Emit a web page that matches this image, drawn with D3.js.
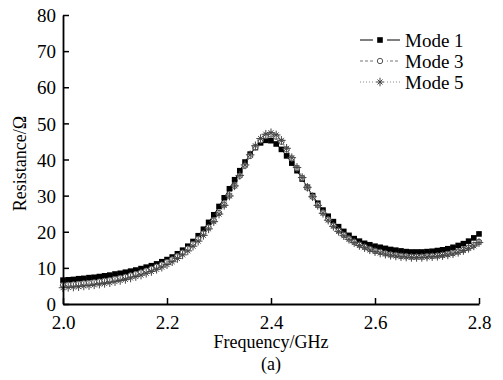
<!DOCTYPE html>
<html>
<head>
<meta charset="utf-8">
<script src="https://cdn.jsdelivr.net/npm/d3@7"></script>
<style>
  body { margin: 0; background: #fff; }
  svg text { font-family: "Liberation Serif", "Times New Roman", serif; }
</style>
</head>
<body>
<script>
// frequency grid, GHz
const freqs = d3.range(0, 81).map(i => +(2 + i * 0.01).toFixed(2));

const mode1 = [
  6.6, 6.7, 6.8, 7.0, 7.1, 7.3, 7.4, 7.6, 7.8, 8.0,
  8.3, 8.5, 8.8, 9.1, 9.4, 9.8, 10.2, 10.6, 11.1, 11.7,
  12.3, 13.0, 13.9, 14.9, 16.0, 17.3, 18.9, 20.7, 22.6, 24.7,
  27.0, 29.4, 31.9, 34.4, 36.9, 39.3, 41.5, 43.3, 44.6, 45.3,
  45.2, 44.3, 42.8, 41.0, 39.0, 36.9, 34.6, 32.3, 30.0, 27.9,
  26.0, 24.3, 22.8, 21.4, 20.1, 19.0, 18.1, 17.4, 16.8, 16.4,
  16.0, 15.7, 15.4, 15.1, 14.9, 14.7, 14.5, 14.4, 14.4, 14.4,
  14.5, 14.6, 14.8, 15.0, 15.3, 15.7, 16.2, 16.7, 17.4, 18.3,
  19.4
];
const mode3 = [
  5.2, 5.3, 5.4, 5.5, 5.7, 5.8, 6.0, 6.2, 6.4, 6.6,
  6.9, 7.2, 7.5, 7.9, 8.3, 8.7, 9.2, 9.7, 10.3, 10.9,
  11.6, 12.3, 13.2, 14.2, 15.3, 16.6, 18.0, 19.5, 21.2, 23.1,
  25.2, 27.5, 30.0, 32.7, 35.5, 38.3, 41.0, 43.4, 45.3, 46.5,
  46.9, 46.3, 44.9, 42.8, 40.3, 37.6, 34.9, 32.2, 29.7, 27.4,
  25.3, 23.4, 21.7, 20.3, 19.1, 18.1, 17.2, 16.4, 15.8, 15.2,
  14.7, 14.4, 14.0, 13.7, 13.5, 13.3, 13.2, 13.1, 13.1, 13.1,
  13.2, 13.3, 13.4, 13.6, 13.8, 14.1, 14.5, 15.0, 15.6, 16.3,
  17.2
];
const mode5 = [
  4.5, 4.6, 4.7, 4.8, 5.0, 5.1, 5.3, 5.5, 5.7, 5.9,
  6.2, 6.5, 6.8, 7.2, 7.6, 8.0, 8.5, 9.0, 9.6, 10.2,
  10.9, 11.7, 12.6, 13.6, 14.7, 16.0, 17.4, 19.0, 20.8, 22.8,
  24.9, 27.3, 29.9, 32.7, 35.6, 38.5, 41.3, 43.8, 45.8, 47.0,
  47.4, 46.8, 45.3, 43.1, 40.5, 37.8, 35.0, 32.3, 29.7, 27.3,
  25.1, 23.2, 21.5, 20.1, 18.9, 17.9, 17.0, 16.2, 15.6, 15.0,
  14.5, 14.1, 13.8, 13.5, 13.3, 13.1, 13.0, 12.9, 12.9, 12.9,
  13.0, 13.1, 13.2, 13.4, 13.6, 13.9, 14.3, 14.8, 15.4, 16.1,
  17.0
];

const seriesNames = ["Mode 1", "Mode 3", "Mode 5"];
const xTicks = [2.0, 2.2, 2.4, 2.6, 2.8];
const yTicks = [0, 10, 20, 30, 40, 50, 60, 70, 80];

const width = 503, height = 380;
const margin = {left: 63, right: 24, top: 15, bottom: 76};
const serif = "'Liberation Serif', 'Times New Roman', serif";

const svg = d3.select("body").append("svg")
  .attr("width", width).attr("height", height);

const xScale = d3.scaleLinear().domain([2.0, 2.8]).range([margin.left, width - margin.right]);
const yScale = d3.scaleLinear().domain([0, 80]).range([height - margin.bottom, margin.top]);

// series styles
const styles = [
  {data: mode1, stroke: "#000", dash: null, marker: "square"},
  {data: mode3, stroke: "#777", dash: "3,2", marker: "circle"},
  {data: mode5, stroke: "#888", dash: "1,2", marker: "star"}
];

const starPath = d3.symbol().type(d3.symbolPlus).size(26)() + d3.symbol().type(d3.symbolTimes).size(18)();

function drawMarker(g, type, x, y) {
  if (type === "square") {
    g.append("rect").attr("x", x - 2.8).attr("y", y - 2.8).attr("width", 5.6).attr("height", 5.6)
      .attr("fill", "#000");
  } else if (type === "circle") {
    g.append("circle").attr("cx", x).attr("cy", y).attr("r", 2.7)
      .attr("fill", "#fff").attr("stroke", "#555").attr("stroke-width", 1);
  } else {
    g.append("path").attr("d", starPath).attr("transform", `translate(${x},${y})`)
      .attr("fill", "none").attr("stroke", "#444").attr("stroke-width", 1);
  }
}

const line = d3.line().x((d, i) => xScale(freqs[i])).y(d => yScale(d));

const plot = svg.append("g");
styles.forEach(s => {
  plot.append("path").attr("d", line(s.data))
    .attr("fill", "none").attr("stroke", s.stroke).attr("stroke-width", 1)
    .attr("stroke-dasharray", s.dash);
});
// markers drawn in order so later modes sit on top
styles.forEach(s => {
  const g = plot.append("g");
  s.data.forEach((v, i) => drawMarker(g, s.marker, xScale(freqs[i]), yScale(v)));
});

// axes
const xAxis = d3.axisBottom(xScale).tickValues(xTicks).tickFormat(d3.format(".1f")).tickSizeInner(-6).tickSizeOuter(0);
const yAxis = d3.axisLeft(yScale).tickValues(yTicks).tickSizeInner(-6).tickSizeOuter(0);

const gx = svg.append("g").attr("transform", `translate(0, ${yScale(0)})`).call(xAxis);
const gy = svg.append("g").attr("transform", `translate(${margin.left}, 0)`).call(yAxis);

[gx, gy].forEach(g => {
  g.attr("font-family", serif);
  g.select(".domain").attr("stroke", "#000").attr("stroke-width", 1.8);
  g.selectAll(".tick line").attr("stroke", "#000").attr("stroke-width", 1.5);
  g.selectAll(".tick text").attr("fill", "#000").style("font-size", "19px").style("font-family", serif);
});
gx.selectAll(".tick text").attr("dy", null).attr("y", 25);
gy.selectAll(".tick text").attr("x", -7).attr("dy", "0.35em");

// axis titles
svg.append("text").attr("x", xScale(2.4)).attr("y", 348).attr("text-anchor", "middle")
  .style("font-size", "18px").style("font-family", serif).text("Frequency/GHz");
svg.append("text").attr("x", xScale(2.4)).attr("y", 370).attr("text-anchor", "middle")
  .style("font-size", "18px").style("font-family", serif).text("(a)");
svg.append("text").attr("transform", `translate(26, ${yScale(40) + 4}) rotate(-90)`)
  .attr("text-anchor", "middle").style("font-size", "18px").style("font-family", serif)
  .text("Resistance/\u03A9");

// legend
const legend = svg.append("g").attr("transform", "translate(360, 40)");
styles.forEach((s, i) => {
  const row = legend.append("g").attr("transform", `translate(0, ${i * 21})`);
  row.append("line").attr("x1", 0).attr("x2", 40).attr("y1", 0).attr("y2", 0)
    .attr("stroke", s.stroke).attr("stroke-width", 1).attr("stroke-dasharray", s.dash);
  row.append("rect").attr("x", 13).attr("y", -4).attr("width", 14).attr("height", 8).attr("fill", "#fff");
  drawMarker(row, s.marker, 20, 0);
  row.append("text").attr("x", 45).attr("y", 0).attr("dy", "0.35em")
    .style("font-size", "19px").style("font-family", serif).text(seriesNames[i]);
});
</script>
</body>
</html>
